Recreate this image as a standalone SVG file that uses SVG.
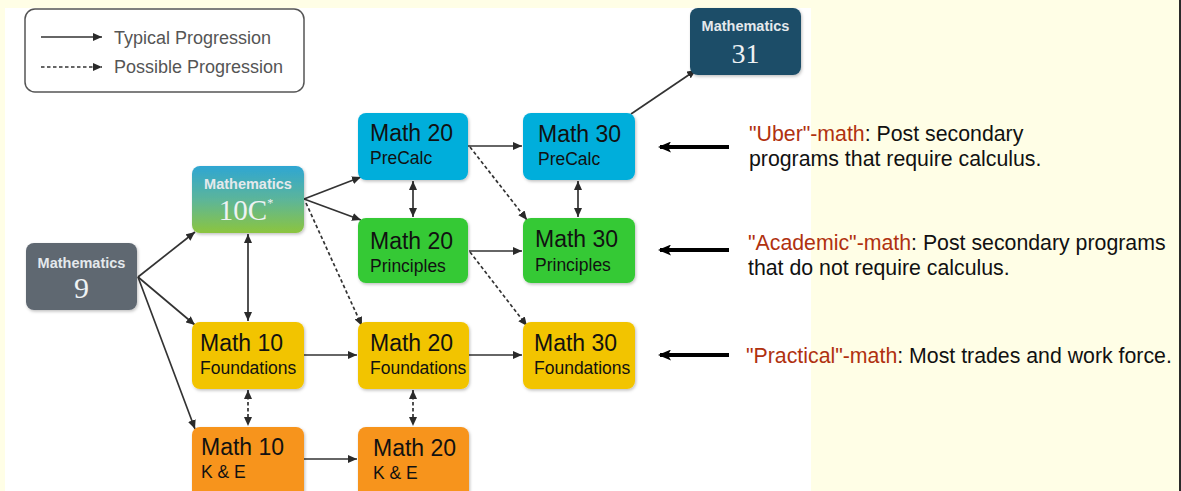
<svg xmlns="http://www.w3.org/2000/svg" width="1181" height="491" viewBox="0 0 1181 491">
<style>
.bg{fill:#fffee6}
.panel{fill:#ffffff}
.node{stroke:none}
.t1{font-family:"Liberation Sans",Arial,sans-serif;font-size:23px;fill:#111}
.t2{font-family:"Liberation Sans",Arial,sans-serif;font-size:17.5px;fill:#111}
.mh{font-family:"Liberation Sans",Arial,sans-serif;font-size:14.5px;font-weight:bold;fill:#e4e9ec;text-anchor:middle}
.mn{font-family:"Liberation Serif","Times New Roman",serif;font-size:30px;fill:#eef2f4;text-anchor:middle}
.leg{font-family:"Liberation Sans",Arial,sans-serif;font-size:18px;fill:#555}
.conn{fill:none;stroke:#333;stroke-width:1.7}
.dash{stroke-dasharray:3.5 2.5}
.note{font-family:"Liberation Sans",Arial,sans-serif;font-size:21.3px;fill:#111}
.q{fill:#b0310f}
.big{fill:none;stroke:#000;stroke-width:4}
</style>
<defs>
<marker id="ah" viewBox="0 0 9 8" refX="9" refY="4" markerWidth="9" markerHeight="8" markerUnits="userSpaceOnUse" orient="auto-start-reverse">
<path d="M0,0 L9,4 L0,8 z" fill="#2a2a2a"/>
</marker>
<marker id="bh" viewBox="0 0 13 11" refX="11" refY="5.5" markerWidth="13" markerHeight="11" markerUnits="userSpaceOnUse" orient="auto">
<path d="M0,0 L13,5.5 L0,11 L3,5.5 z" fill="#000"/>
</marker>
<linearGradient id="g10c" x1="0" y1="0" x2="0" y2="1">
<stop offset="0" stop-color="#2ea6d3"/>
<stop offset="0.5" stop-color="#5cb59a"/>
<stop offset="1" stop-color="#8cc53e"/>
</linearGradient>
<filter id="sh" x="-10%" y="-10%" width="130%" height="130%">
<feDropShadow dx="1" dy="1.5" stdDeviation="1.5" flood-color="#000" flood-opacity="0.25"/>
</filter>
</defs>
<rect class="bg" x="0" y="0" width="1181" height="491"/>
<rect class="panel" x="5" y="8" width="806" height="483"/>
<rect x="1179" y="0" width="2" height="491" fill="#2a2a2a"/>

<g id="legend">
<rect x="25" y="9" width="279" height="83" rx="10" fill="#fff" stroke="#555" stroke-width="1.5"/>
<line class="conn" x1="41" y1="37" x2="102" y2="37" marker-end="url(#ah)"/>
<text class="leg" x="114" y="44">Typical Progression</text>
<line class="conn dash" x1="41" y1="67" x2="102" y2="67" marker-end="url(#ah)"/>
<text class="leg" x="114" y="73">Possible Progression</text>
</g>

<g id="connectors">
<path class="conn" d="M138,277 L195,232" marker-end="url(#ah)"/>
<path class="conn" d="M138,277 L195,325" marker-end="url(#ah)"/>
<path class="conn" d="M138,277 L195,429" marker-end="url(#ah)"/>
<path class="conn" d="M248,234 L248,321" marker-start="url(#ah)" marker-end="url(#ah)"/>
<path class="conn" d="M304,199 L361,177" marker-end="url(#ah)"/>
<path class="conn" d="M304,199 L361,220" marker-end="url(#ah)"/>
<path class="conn dash" d="M306,203 L362,326" marker-end="url(#ah)"/>
<path class="conn" d="M413,181 L413,217" marker-start="url(#ah)" marker-end="url(#ah)"/>
<path class="conn" d="M468,146 L522,146" marker-end="url(#ah)"/>
<path class="conn dash" d="M470,147 L527,220" marker-end="url(#ah)"/>
<path class="conn" d="M578,181 L578,217" marker-start="url(#ah)" marker-end="url(#ah)"/>
<path class="conn" d="M469,251 L522,251" marker-end="url(#ah)"/>
<path class="conn dash" d="M470,252 L527,326" marker-end="url(#ah)"/>
<path class="conn" d="M304,355 L357,355" marker-end="url(#ah)"/>
<path class="conn" d="M469,355 L522,355" marker-end="url(#ah)"/>
<path class="conn dash" d="M248,390 L248,426" marker-start="url(#ah)" marker-end="url(#ah)"/>
<path class="conn dash" d="M413,390 L413,426" marker-start="url(#ah)" marker-end="url(#ah)"/>
<path class="conn" d="M304,459 L357,459" marker-end="url(#ah)"/>
<path class="conn" d="M631,114 L696,70" marker-end="url(#ah)"/>
<line class="big" x1="729" y1="147" x2="660" y2="147" marker-end="url(#bh)"/>
<line class="big" x1="729" y1="250" x2="660" y2="250" marker-end="url(#bh)"/>
<line class="big" x1="729" y1="355" x2="660" y2="355" marker-end="url(#bh)"/>
</g>

<g id="math9">
<rect class="node" x="26" y="243" width="111" height="67" rx="8" fill="#5e6771" filter="url(#sh)"/>
<text class="mh" x="81.5" y="268">Mathematics</text>
<text class="mn" x="81.5" y="298">9</text>
</g>
<g id="math10c">
<rect class="node" x="192" y="166" width="112" height="67" rx="8" fill="url(#g10c)" filter="url(#sh)"/>
<text class="mh" x="248" y="189">Mathematics</text>
<text class="mn" x="246" y="220" style="font-size:29px">10C<tspan dy="-13" style="font-size:12px">*</tspan></text>
</g>
<g id="math31">
<rect class="node" x="690" y="8" width="111" height="67" rx="8" fill="#1c4d68" filter="url(#sh)"/>
<text class="mh" x="745.5" y="31">Mathematics</text>
<text class="mn" x="745.5" y="63" style="font-size:28px">31</text>
</g>

<g id="math20precalc">
<rect class="node" x="358" y="113" width="110" height="67" rx="8" fill="#00aedb" filter="url(#sh)"/>
<text class="t1" x="370" y="141">Math 20</text>
<text class="t2" x="370" y="164">PreCalc</text>
</g>
<g id="math30precalc">
<rect class="node" x="523" y="113" width="112" height="67" rx="8" fill="#00aedb" filter="url(#sh)"/>
<text class="t1" x="538" y="142">Math 30</text>
<text class="t2" x="538" y="165">PreCalc</text>
</g>
<g id="math20principles">
<rect class="node" x="358" y="218" width="110" height="65" rx="8" fill="#35c935" filter="url(#sh)"/>
<text class="t1" x="370" y="249">Math 20</text>
<text class="t2" x="370" y="272">Principles</text>
</g>
<g id="math30principles">
<rect class="node" x="523" y="218" width="112" height="65" rx="8" fill="#35c935" filter="url(#sh)"/>
<text class="t1" x="535" y="247">Math 30</text>
<text class="t2" x="535" y="271">Principles</text>
</g>
<g id="math10foundations">
<rect class="node" x="192" y="322" width="112" height="67" rx="8" fill="#f2c400" filter="url(#sh)"/>
<text class="t1" x="200" y="351">Math 10</text>
<text class="t2" x="200" y="374">Foundations</text>
</g>
<g id="math20foundations">
<rect class="node" x="358" y="322" width="111" height="67" rx="8" fill="#f2c400" filter="url(#sh)"/>
<text class="t1" x="370" y="351">Math 20</text>
<text class="t2" x="370" y="374">Foundations</text>
</g>
<g id="math30foundations">
<rect class="node" x="523" y="322" width="112" height="67" rx="8" fill="#f2c400" filter="url(#sh)"/>
<text class="t1" x="534" y="351">Math 30</text>
<text class="t2" x="534" y="374">Foundations</text>
</g>
<g id="math10ke">
<rect class="node" x="192" y="427" width="112" height="72" rx="8" fill="#f7941e" filter="url(#sh)"/>
<text class="t1" x="201" y="455">Math 10</text>
<text class="t2" x="201" y="478">K &amp; E</text>
</g>
<g id="math20ke">
<rect class="node" x="358" y="427" width="111" height="72" rx="8" fill="#f7941e" filter="url(#sh)"/>
<text class="t1" x="373" y="456">Math 20</text>
<text class="t2" x="373" y="479">K &amp; E</text>
</g>

<g id="notes">
<text class="note" x="749" y="141"><tspan class="q">"Uber"-math</tspan>: Post secondary</text>
<text class="note" x="749" y="166">programs that require calculus.</text>
<text class="note" x="748" y="250"><tspan class="q">"Academic"-math</tspan>: Post secondary programs</text>
<text class="note" x="748" y="275">that do not require calculus.</text>
<text class="note" x="746" y="363"><tspan class="q">"Practical"-math</tspan>: Most trades and work force.</text>
</g>
</svg>
